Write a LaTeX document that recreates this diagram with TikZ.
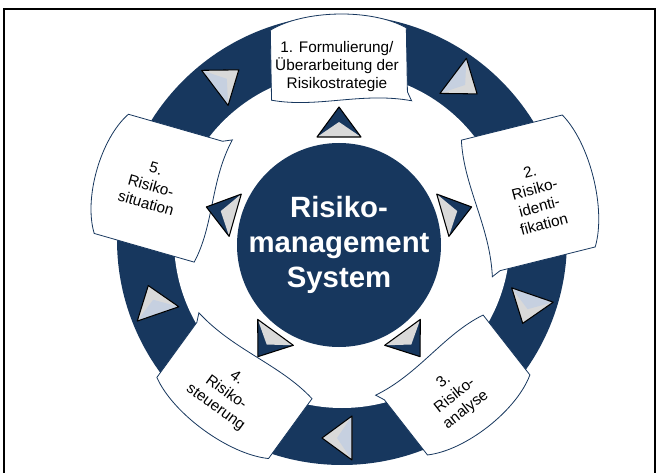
\documentclass[tikz,border=0pt]{standalone}
\usepackage{fontspec}
\setmainfont{Liberation Sans}
\definecolor{rmblue}{RGB}{23,55,94}
\definecolor{facetgray}{RGB}{217,217,217}
\definecolor{facetblue}{RGB}{198,208,224}

% banner on the ring: #1 polar angle, #2 radius, #3 half length, #4 half depth
\newcommand{\riskbanner}[4]{%
  \begin{scope}[shift={(ringc)}, rotate=#1-90, shift={(0,#2)}]
    \draw[banner] (-#3,#4) .. controls (-#3/2,#4+20) and (#3/2,#4+20) .. (#3,#4)
      -- (#3,-#4+6) -- (#3+4,-#4-3)
      .. controls (#3/3,-#4+7) and (-#3/3,-#4-9) .. (-#3,-#4) -- cycle;
  \end{scope}}

% small pyramid: #1 centre, #2 polar angle, #3 radius, #4 turn, #5 fill, #6 facet
\newcommand{\pyramid}[6]{%
  \begin{scope}[shift={(#1)}, rotate=#2, shift={(#3,0)}, rotate=#4]
    \fill[#5] (20,0) -- (-10,22) -- (-10,-22) -- cycle;
    \fill[#6] (-10,22) -- (-10,-22) -- (5,0) -- cycle;
    \draw[line width=0.8pt, line join=round] (20,0) -- (-10,22) -- (-10,-22) -- cycle;
  \end{scope}}

\begin{document}
\begin{tikzpicture}[x=0.75pt,y=0.75pt,
    banner/.style={draw=rmblue, line width=0.6pt, fill=white},
    boxtext/.style={align=center, font=\fontsize{11.5}{13.5}\selectfont}]
  \clip (0,0) rectangle (657,472);
  \coordinate (ringc) at (342,232);
  \coordinate (corec) at (339,227);

  % frame
  \draw[line width=1.5pt] (4,-10) rectangle (655,463);

  % ring
  \fill[rmblue] (ringc) circle (225);
  \fill[white] (ringc) circle (168);

  % arrows on the ring, clockwise
  \foreach \a in {127,53,-19,-90,-161}
    \pyramid{ringc}{\a}{198}{-90}{facetgray}{facetblue};

  % banners
  \riskbanner{91}{176}{68}{35}
  \riskbanner{14}{192}{68}{52}
  \riskbanner{-52}{184}{65}{38}
  \riskbanner{-126}{183}{69}{37}
  \riskbanner{164}{188}{62}{52}

  % centre
  \node[circle, fill=rmblue, minimum size=153pt, inner sep=0pt] (core) at (corec) {};
  \node[text=white, align=center, font=\bfseries\fontsize{22}{26}\selectfont] (coretext) at (core) {Risiko-\\management\\System};

  % arrows round the centre
  \foreach \a in {90,16,-54,-126,164}
    \pyramid{corec}{\a}{118}{0}{rmblue}{facetgray};

  % texts
  \node[boxtext] (step1) at (337,405) {1. Formulierung/\\Überarbeitung der\\Risikostrategie};
  \node[boxtext, rotate=15] (step2) at (537,274) {2.\\Risiko-\\identi-\\fikation};
  \node[boxtext, rotate=38] (step3) at (455,76) {3.\\Risiko-\\analyse};
  \node[boxtext, rotate=-36] (step4) at (226,79) {4.\\Risiko-\\steuerung};
  \node[boxtext, rotate=-16] (step5) at (151,286) {5.\\Risiko-\\situation};
\end{tikzpicture}
\end{document}
